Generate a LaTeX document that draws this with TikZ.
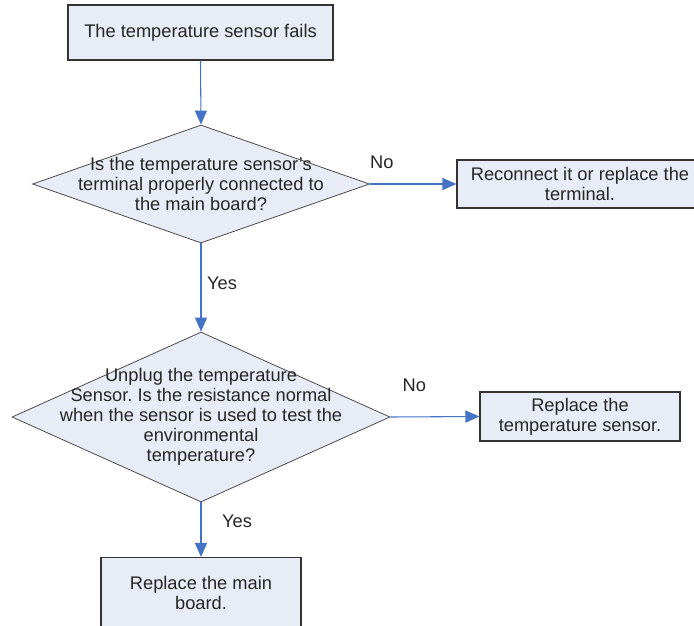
\documentclass[tikz,border=0pt]{standalone}
\usepackage{fontspec}
\setmainfont{Liberation Sans}
\usepackage{tikz}
\usetikzlibrary{arrows.meta, shapes.geometric}
\definecolor{boxfill}{RGB}{232,236,246}
\definecolor{flow}{RGB}{68,114,196}
\frenchspacing

\begin{document}
\begin{tikzpicture}[x=0.75pt, y=-0.75pt,
  >={Triangle[length=10.5pt, width=9pt]},
  font=\fontsize{13.7}{15}\selectfont, text=black!85,
  stepbox/.style={draw=black!80, fill=boxfill, line width=0.8pt, align=center, inner sep=0pt},
  decision/.style={diamond, draw=black!70, fill=boxfill, line width=0.6pt, inner sep=0pt},
  flowline/.style={flow, line width=0.8pt, ->}]

  \clip (0,0) rectangle (694,626);
  \fill[white] (0,0) rectangle (694,626);

  % --- boxes and decisions ----------------------------------------------------
  \node[stepbox, minimum width=198.75pt, minimum height=41.25pt] (fails) at (200.5,32.5)
    {The temperature sensor fails};

  \node[decision, minimum width=252.75pt, minimum height=88.5pt] (conn) at (201,184) {};
  \node[align=center] (conntext) at (conn) {%
    Is the temperature sensor's\\terminal properly connected to\\the main board?};

  \node[stepbox, minimum width=184.5pt, minimum height=36pt] (reconnect) at (580,184)
    {Reconnect it or replace the\\terminal.};

  \node[decision, minimum width=283.5pt, minimum height=127.5pt] (resist) at (201,417) {};
  \node[align=center] (resisttext) at (resist) {%
    Unplug the temperature\\Sensor. Is the resistance normal\\when the sensor is used to test the\\environmental\\temperature?};

  \node[stepbox, minimum width=150pt, minimum height=36.75pt] (newsensor) at (580,416.5)
    {Replace the\\temperature sensor.};

  \node[stepbox, minimum width=150pt, minimum height=52.5pt] (newboard) at (201,592.5)
    {Replace the main\\board.};

  % --- connectors -------------------------------------------------------------
  \draw[flowline] (fails.south) -- (conn.north);
  \draw[flowline] (conn.east) -- (reconnect.west);
  \draw[flowline] (conn.south) -- (resist.north);
  \draw[flowline] (resist.east) -- (newsensor.west);
  \draw[flowline] (resist.south) -- (newboard.north);

  % --- branch labels ----------------------------------------------------------
  \node (no1) at ([shift={(12,-22)}]conn.east) {No};
  \node (yes1) at ([shift={(21,40)}]conn.south) {Yes};
  \node (no2) at ([shift={(24,-32)}]resist.east) {No};
  \node (yes2) at ([shift={(36,19)}]resist.south) {Yes};

\end{tikzpicture}
\end{document}
